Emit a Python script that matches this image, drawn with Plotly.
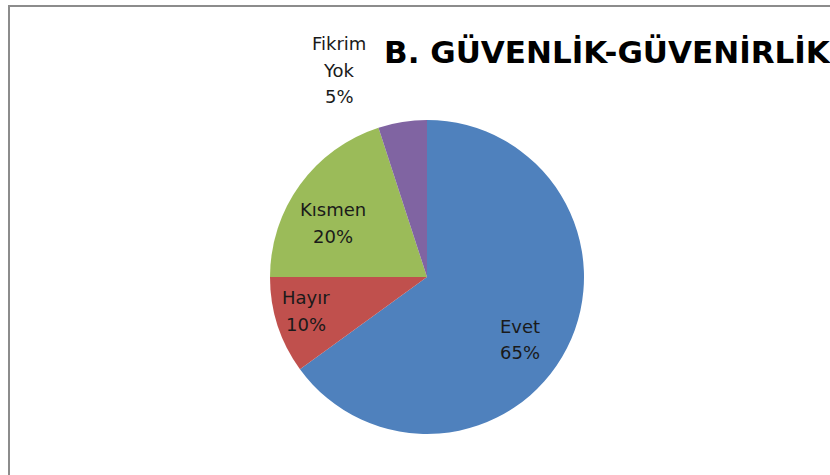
import plotly.graph_objects as go

labels = ["Evet", "Hayır", "Kısmen", "Fikrim Yok"]
label_lines = [["Evet"], ["Hayır"], ["Kısmen"], ["Fikrim", "Yok"]]
values = [65, 10, 20, 5]
colors = ["#4F81BD", "#C0504D", "#9BBB59", "#8064A2"]
title_text = "B. GÜVENLİK-GÜVENİRLİK"

W, H = 830, 475
cx, cy, r = 427, 277, 157
# label block centres (layout, pixels) and line spacing
label_pos = [(520, 339.5), (306, 311), (333, 223), (339, 70)]
line_gap = 26.5

fig = go.Figure(go.Pie(
    labels=labels,
    values=values,
    sort=False,
    direction="clockwise",
    rotation=0,
    marker=dict(colors=colors, line=dict(width=0)),
    textinfo="none",
    showlegend=False,
    hoverinfo="label+percent",
    domain=dict(x=[(cx - r) / W, (cx + r) / W], y=[1 - (cy + r) / H, 1 - (cy - r) / H]),
))

total = sum(values)
for lines, v, (px, py) in zip(label_lines, values, label_pos):
    all_lines = lines + [f"{round(v / total * 100)}%"]
    n = len(all_lines)
    for i, line in enumerate(all_lines):
        ly = py + (i - (n - 1) / 2) * line_gap
        fig.add_annotation(
            text=line,
            xref="paper", yref="paper", x=px / W, y=1 - ly / H,
            xanchor="center", yanchor="middle", showarrow=False,
            font=dict(family="DejaVu Sans", size=18, color="#1a1a1a"),
        )

fig.add_annotation(
    text="<b>" + title_text + "</b>",
    xref="paper", yref="paper", x=382 / W, y=1 - 52 / H,
    xanchor="left", yanchor="middle", showarrow=False,
    font=dict(family="DejaVu Sans", size=31, color="#000000"),
)

fig.add_shape(type="rect", xref="paper", yref="paper",
              x0=9 / W, x1=1.05, y0=-0.05, y1=1 - 6 / H,
              line=dict(color="#8c8c8c", width=2), fillcolor="rgba(0,0,0,0)")

fig.update_layout(
    width=W, height=H,
    margin=dict(l=0, r=0, t=0, b=0),
    paper_bgcolor="white", plot_bgcolor="white",
)

fig.write_html("out.html",
               config={"displayModeBar": False},
               post_script="document.body.style.margin='0';document.body.style.overflow='hidden';")
